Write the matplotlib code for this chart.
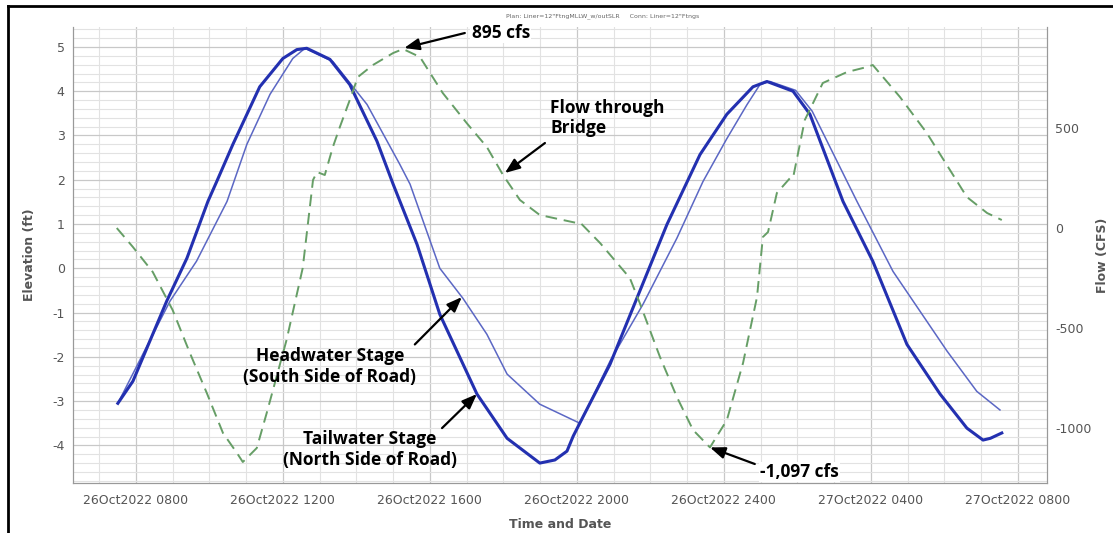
import numpy as np
import matplotlib
matplotlib.use('Agg')
import matplotlib.pyplot as plt
from matplotlib.lines import Line2D

plt.rcParams['axes.unicode_minus'] = False

# hours since 26Oct2022 0000
tw_hr = [7.51, 7.92, 8.84, 9.39, 9.96, 10.2, 10.64, 11.37, 12.0, 12.38, 12.65, 13.28, 13.82,
         14.56, 15.0, 15.65, 16.27, 17.28, 18.1, 18.99, 19.4, 19.73, 19.9, 20.2, 20.9, 21.63,
         22.45, 23.35, 24.08, 24.79, 25.17, 25.88, 26.34, 27.24, 28.05, 28.98, 29.88, 30.61,
         31.05, 31.25, 31.56]
tw_elev = [-3.05, -2.55, -0.74, 0.23, 1.51, 1.96, 2.8, 4.1, 4.74, 4.94, 4.97, 4.72, 4.15,
           2.87, 1.9, 0.54, -1.04, -2.84, -3.84, -4.4, -4.33, -4.13, -3.79, -3.3, -2.17, -0.68,
           0.99, 2.57, 3.48, 4.1, 4.22, 4.0, 3.48, 1.51, 0.16, -1.72, -2.84, -3.61,
           -3.88, -3.84, -3.72]

hw_hr = [7.51, 8.19, 8.93, 9.65, 10.48, 11.02, 11.65, 12.27, 12.6, 13.36, 14.29, 15.18, 15.46,
         16.27, 16.9, 17.55, 18.1, 18.99, 20.08, 20.2, 20.9, 21.8, 22.72, 23.43, 24.08, 24.63,
         24.98, 25.25, 25.95, 26.4, 27.62, 28.6, 30.07, 30.88, 31.51]
hw_elev = [-3.05, -1.94, -0.74, 0.16, 1.51, 2.8, 3.93, 4.74, 4.97, 4.67, 3.7, 2.35, 1.9,
           0.0, -0.68, -1.49, -2.39, -3.07, -3.5, -3.3, -2.1, -0.81, 0.68, 1.96, 2.93, 3.7,
           4.15, 4.22, 4.02, 3.55, 1.51, -0.07, -1.87, -2.78, -3.2]

q_hr = [7.48, 7.92, 8.46, 9.0, 9.47, 9.93, 10.37, 10.75, 10.91, 11.29, 11.56, 12.1, 12.54,
        12.82, 12.93, 13.14, 13.36, 13.55, 13.82, 14.04, 14.45, 15.0, 15.27, 15.73, 16.35,
        17.0, 17.55, 17.99, 18.45, 18.99, 20.0, 20.1, 20.63, 21.44, 21.71, 22.26, 22.72,
        23.16, 23.62, 24.08, 24.52, 24.9, 25.06, 25.2, 25.44, 25.8, 25.88, 26.2, 26.69,
        27.35, 27.89, 28.05, 28.79, 29.52, 30.15, 30.61, 31.16, 31.56]
q_cfs = [0, -95, -220, -410, -625, -825, -1025, -1125, -1170, -1100, -925, -560, -200,
         240, 280, 265, 405, 505, 640, 755, 815, 875, 895, 855, 675,
         525, 405, 265, 140, 65, 25, 25, -75, -250, -375, -645, -845,
         -1010, -1097, -960, -675, -345, -45, -20, 175, 250, 250, 540, 725,
         780, 805, 815, 655, 475, 290, 155, 75, 40]

tick_hr = [8, 12, 16, 20, 24, 28, 32]
tick_lbl = ['26Oct2022 0800', '26Oct2022 1200', '26Oct2022 1600', '26Oct2022 2000',
            '26Oct2022 2400', '27Oct2022 0400', '27Oct2022 0800']

gray = '#555555'
fig = plt.figure(figsize=(11.13, 5.33), dpi=100)
ax = fig.add_axes([0.0656, 0.0938, 0.8751, 0.8555])
ax2 = ax.twinx()

ax.plot(hw_hr, hw_elev, color='#5b67c4', lw=1.1, zorder=3)
ax.plot(tw_hr, tw_elev, color='#2330b0', lw=2.2, zorder=4)
ax2.plot(q_hr, q_cfs, color='#669e66', lw=1.4, ls=(0, (6, 3.5)), zorder=3)

ax.set_xlim(6.29, 32.79)
ax.set_ylim(-4.85, 5.45)
ax2.set_ylim(-1275, 1005)

ax.set_xticks(tick_hr)
ax.set_xticklabels(tick_lbl)
ax.set_xticks(np.arange(7, 33, 1), minor=True)
ax.set_yticks(np.arange(-4, 6, 1))
ax.set_yticks(np.arange(-4.8, 5.45, 0.2), minor=True)
ax2.set_yticks([-1000, -500, 0, 500])

ax.grid(which='major', color='#c8c8c8', lw=0.9)
ax.grid(which='minor', color='#e2e2e2', lw=0.8)
ax.set_axisbelow(True)

for a in (ax, ax2):
    a.spines['top'].set_visible(False)
    for s in ('left', 'right', 'bottom'):
        a.spines[s].set_color('#999999')
    a.tick_params(colors=gray, labelsize=9, length=0, which='both', pad=6)
ax.tick_params(axis='x', pad=8)

ax.set_ylabel('Elevation (ft)', fontsize=9, fontweight='bold', color=gray, labelpad=12)
ax2.set_ylabel('Flow (CFS)', fontsize=9, fontweight='bold', color=gray, labelpad=3)
ax.set_xlabel('Time and Date', fontsize=9, fontweight='bold', color=gray, labelpad=8)

fig.text(0.541, 0.970, 'Plan: Liner=12"FtngMLLW_w/outSLR     Conn: Liner=12"Ftngs',
         fontsize=4.5, color='#666666', ha='center', va='center')

# annotations
tf = dict(fontsize=12.5, fontweight='bold', family='Open Sans', color='black')
arr = dict(arrowstyle='-|>,head_length=0.9,head_width=0.35', color='black', lw=1.6,
           shrinkA=0, shrinkB=0)

ax2.annotate('', xy=(15.3, 900), xytext=(16.95, 975), arrowprops=arr)
ax2.text(17.14, 975, '895 cfs', ha='left', va='center', zorder=6,
         bbox=dict(fc='white', ec='none', pad=1), **tf)

ax2.annotate('', xy=(18.04, 275), xytext=(19.13, 425), arrowprops=arr)
ax2.text(19.27, 550, 'Flow through\nBridge', ha='left', va='center', linespacing=1.2, **tf)

ax2.annotate('', xy=(16.87, -0.65), xytext=(15.59, -1.72), xycoords=ax.transData,
             textcoords=ax.transData, arrowprops=arr)
ax2.text(13.28, -2.21, 'Headwater Stage\n(South Side of Road)', ha='center', va='center',
         transform=ax.transData, linespacing=1.2, **tf)

ax2.annotate('', xy=(17.28, -2.84), xytext=(16.33, -3.61), xycoords=ax.transData,
             textcoords=ax.transData, arrowprops=arr)
ax2.text(14.37, -4.09, 'Tailwater Stage\n(North Side of Road)', ha='center', va='center',
         transform=ax.transData, linespacing=1.2, **tf)

ax2.annotate('', xy=(23.62, -1097), xytext=(24.84, -1180), arrowprops=arr)
ax2.text(24.98, -1220, '-1,097 cfs', ha='left', va='center', zorder=6,
         bbox=dict(fc='white', ec='none', pad=1), **tf)

# page border
fig.add_artist(Line2D([0.0072, 0.0072], [0, 0.989], color='black', lw=2))
fig.add_artist(Line2D([0.0072, 1.0], [0.989, 0.989], color='black', lw=2))

fig.savefig('out.png', dpi=100)
